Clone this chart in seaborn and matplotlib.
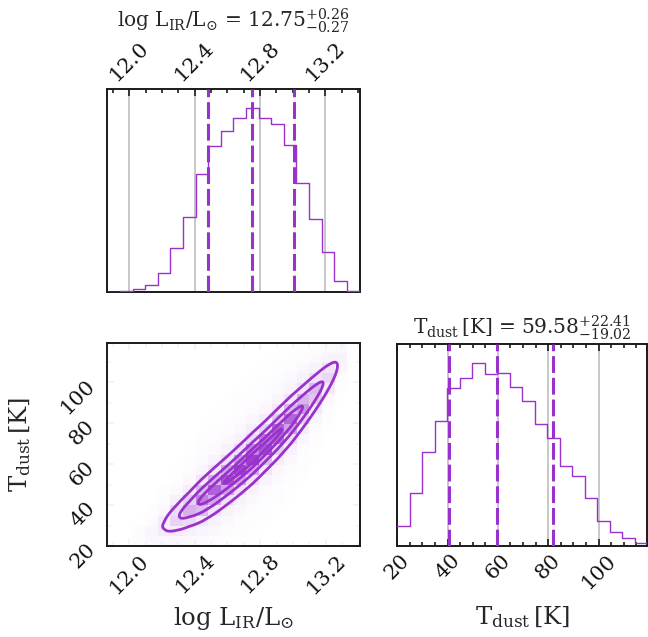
import numpy as np
import pandas as pd
import matplotlib
matplotlib.use("Agg")
import matplotlib.pyplot as plt
import seaborn as sns
from matplotlib.colors import LinearSegmentedColormap
from matplotlib.ticker import MultipleLocator

# ---------------- data ----------------
lir_range = (11.866, 13.41)
lir_counts = [0, 1, 7, 19, 57, 131, 223, 353, 435, 480, 520, 550, 520, 502,
              440, 325, 217, 120, 32, 2]
lir_quantiles = [12.48, 12.75, 13.01]
lir_value, lir_plus, lir_minus = "12.75", "0.26", "0.27"

tdust_range = (20.0, 119.4)
tdust_counts = [60, 160, 283, 375, 476, 506, 551, 516, 520, 478, 436, 368,
                325, 241, 210, 143, 75, 43, 24, 10]
tdust_quantiles = [40.56, 59.58, 81.99]
tdust_value, tdust_plus, tdust_minus = "59.58", "22.41", "19.02"

# ridge of the joint distribution (centre line and spread of T at given L)
ridge_lir = [12.0, 12.25, 12.37, 12.5, 12.74, 12.82, 12.98, 13.13, 13.3]
ridge_tdust = [21, 32, 38, 46, 62, 67, 81, 96, 110]
ridge_width = [4.8, 4.8, 4.7, 4.6, 4.6, 4.7, 4.8, 4.9, 5.2]

lir_ticks = [12.0, 12.4, 12.8, 13.2]
tdust_ticks = [20, 40, 60, 80, 100]

lir_label = r"$\log\,\mathrm{L_{IR}/L_{\odot}}$"
tdust_label = r"$\mathrm{T_{dust}\,[K]}$"

# ---------------- style ----------------
sns.set_style("ticks")
plt.rcParams["font.family"] = ["DejaVu Serif"]
plt.rcParams["mathtext.fontset"] = "dejavuserif"
purple = "#9932CC"
TICK_FS = 15
LABEL_FS = 17.5
TITLE_FS = 14.5

W, H = 648, 637
fig = plt.figure(figsize=(W / 100, H / 100), dpi=100)


def rect(x0, y0, x1, y1):
    return [x0 / W, 1 - y1 / H, (x1 - x0) / W, (y1 - y0) / H]


ax_top = fig.add_axes(rect(107.3, 89.3, 359.5, 291.7))
ax_2d = fig.add_axes(rect(107.3, 342.7, 360.0, 546.0))
ax_r = fig.add_axes(rect(397.3, 344.3, 647.3, 546.0))

for ax in (ax_top, ax_2d, ax_r):
    for s in ax.spines.values():
        s.set_linewidth(1.4)
        s.set_color("#1a1a1a")


def style_ticks(ax, axis):
    ax.tick_params(axis=axis, which="both", direction="in", color="#1a1a1a",
                   width=1.2, labelsize=TICK_FS, labelcolor="#111111")
    ax.tick_params(axis=axis, which="major", length=5)
    ax.tick_params(axis=axis, which="minor", length=3)


def draw_hist(ax, rng, counts, quants):
    edges = np.linspace(rng[0], rng[1], len(counts) + 1)
    centers = 0.5 * (edges[:-1] + edges[1:])
    df = pd.DataFrame({"value": centers, "count": np.asarray(counts, float)})
    sns.histplot(data=df, x="value", weights="count", bins=[float(e) for e in edges],
                 element="step", fill=False, color=purple, linewidth=1.0, ax=ax, zorder=3)
    for q in quants:
        ax.axvline(q, color=purple, lw=2.2, ls=(0, (5.5, 1.6)), zorder=4)
    ax.set_xlim(rng)
    ax.set_ylim(0, 1.1 * max(counts))
    ax.set_yticks([])
    ax.set_ylabel("")
    ax.grid(axis="x", which="major", color="grey", alpha=0.55, lw=1.1, zorder=0)
    ax.set_axisbelow(True)


# ---- top-left histogram
draw_hist(ax_top, lir_range, lir_counts, lir_quantiles)
ax_top.set_xticks(lir_ticks)
ax_top.xaxis.set_minor_locator(MultipleLocator(0.1))
style_ticks(ax_top, "x")
ax_top.tick_params(axis="x", which="both", top=True, bottom=False,
                   labeltop=True, labelbottom=False, rotation=45)
ax_top.set_xlabel("")
ax_top.set_title(lir_label + " = " + rf"${lir_value}_{{-{lir_minus}}}^{{+{lir_plus}}}$",
                 fontsize=TITLE_FS, y=1.309, pad=0)

# ---- bottom-right histogram
draw_hist(ax_r, tdust_range, tdust_counts, tdust_quantiles)
ax_r.set_xticks(tdust_ticks)
ax_r.xaxis.set_minor_locator(MultipleLocator(5))
style_ticks(ax_r, "x")
ax_r.tick_params(axis="x", which="both", top=True, bottom=True, rotation=45)
ax_r.set_xlabel(tdust_label, fontsize=LABEL_FS)
ax_r.xaxis.set_label_coords(0.5, -0.29)
ax_r.set_title(tdust_label + " = " + rf"${tdust_value}_{{-{tdust_minus}}}^{{+{tdust_plus}}}$",
               fontsize=TITLE_FS, y=1.05, pad=0)

# ---- 2D panel
lir_edges = np.linspace(lir_range[0], lir_range[1], len(lir_counts) + 1)
lir_centers = 0.5 * (lir_edges[:-1] + lir_edges[1:])
ridge_poly = np.polyfit(ridge_lir, ridge_tdust, 2)
width_poly = np.polyfit(ridge_lir, ridge_width, 2)


def joint(xg, yg):
    px = np.interp(xg, lir_centers, lir_counts)
    tc = np.polyval(ridge_poly, xg)
    sw = np.polyval(width_poly, xg)
    z = (yg[:, None] - tc[None, :]) / sw[None, :]
    nu = 2.5
    return px[None, :] * (1 + z ** 2 / nu) ** (-(nu + 1) / 2) / sw[None, :]


xf = np.linspace(lir_range[0], lir_range[1], 320)
yf = np.linspace(tdust_range[0], tdust_range[1], 320)
D = joint(xf, yf)

mass_levels = 1.0 - np.exp(-0.5 * np.arange(0.5, 2.1, 0.5) ** 2)
flat = np.sort(D.ravel())[::-1]
cum = np.cumsum(flat) / flat.sum()
V = np.sort([flat[np.searchsorted(cum, m)] for m in mass_levels])

# haze of samples outside the contours
rgba = np.zeros(D.shape + (4,))
rgba[..., :3] = matplotlib.colors.to_rgb("#b878de")
lo = 0.02
ratio = np.clip(np.log(np.maximum(D, 1e-12) / (lo * V[0])) / np.log(1 / lo), 0, 1)
rgba[..., 3] = 0.62 * ratio ** 1.4
ax_2d.imshow(rgba, extent=[xf[0], xf[-1], yf[0], yf[-1]], origin="lower",
             aspect="auto", zorder=0, interpolation="bilinear")

# white base fill inside the outer contour
ax_2d.contourf(xf, yf, D, [V[0], D.max() * 1.01], colors=["white"], zorder=1)

# blocky density
xe = np.linspace(lir_range[0], lir_range[1], 21)
ye = np.linspace(tdust_range[0], tdust_range[1], 21)
Hc = joint(0.5 * (xe[:-1] + xe[1:]), 0.5 * (ye[:-1] + ye[1:]))
dens_cmap = LinearSegmentedColormap.from_list("dens", [purple, (1, 1, 1, 0)])
ax_2d.pcolormesh(xe, ye, Hc.max() - Hc, cmap=dens_cmap, vmin=0,
                 vmax=Hc.max(), zorder=2, alpha=0.95)

ax_2d.contour(xf, yf, D, V, colors=[purple], linewidths=2.0, zorder=3)

ax_2d.set_xlim(lir_range)
ax_2d.set_ylim(tdust_range)
ax_2d.set_xticks(lir_ticks)
ax_2d.set_yticks(tdust_ticks)
ax_2d.xaxis.set_minor_locator(MultipleLocator(0.1))
ax_2d.yaxis.set_minor_locator(MultipleLocator(10))
style_ticks(ax_2d, "both")
ax_2d.tick_params(which="both", top=True, right=True)
ax_2d.tick_params(axis="y", pad=11)
for lab in ax_2d.get_xticklabels():
    lab.set_rotation(45)
for lab in ax_2d.get_yticklabels():
    lab.set_rotation(45)
    lab.set_rotation_mode("anchor")
    lab.set_ha("right")
    lab.set_va("center")
ax_2d.set_xlabel(lir_label, fontsize=LABEL_FS)
ax_2d.xaxis.set_label_coords(0.5, -0.29)
ax_2d.set_ylabel(tdust_label, fontsize=LABEL_FS)
ax_2d.yaxis.set_label_coords(-0.295, 0.5)

fig.savefig("out.png", dpi=100)
